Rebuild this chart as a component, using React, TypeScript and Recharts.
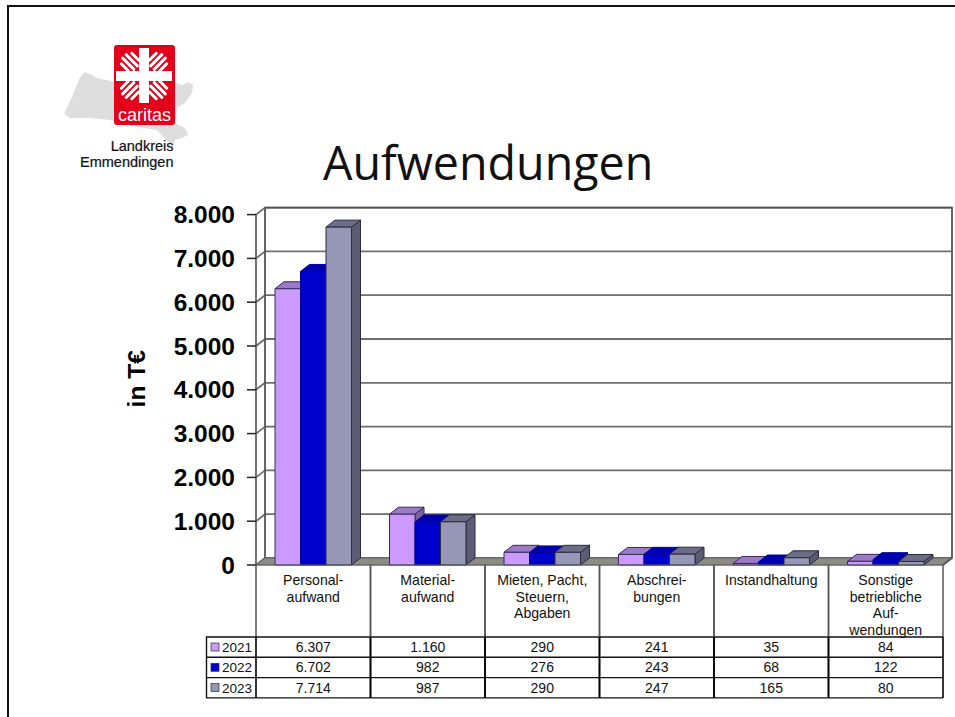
import React from 'react';
import { BarChart, Bar, XAxis, YAxis, CartesianGrid, ReferenceArea } from 'recharts';

const categories = ['Personalaufwand', 'Materialaufwand', 'Mieten', 'Abschreibungen', 'Instandhaltung', 'Sonstige'];
const categoryLines = [
  ['Personal-', 'aufwand'],
  ['Material-', 'aufwand'],
  ['Mieten, Pacht,', 'Steuern,', 'Abgaben'],
  ['Abschrei-', 'bungen'],
  ['Instandhaltung'],
  ['Sonstige', 'betriebliche', 'Auf-', 'wendungen'],
];
const values2021 = [6307, 1160, 290, 241, 35, 84];
const values2022 = [6702, 982, 276, 243, 68, 122];
const values2023 = [7714, 987, 290, 247, 165, 80];
const yTicks = [0, 1000, 2000, 3000, 4000, 5000, 6000, 7000, 8000];
const seriesNames = ['2021', '2022', '2023'];
const seriesValues = [values2021, values2022, values2023];
const frontColors = ['#CC99FF', '#0000CC', '#9696B6'];
const topColors = ['#9B7AC6', '#0000B0', '#6C6C86'];
const sideColors = ['#7D62A0', '#00008C', '#5C5C74'];
const outlineColors = ['#3a2a5a', '#0000A0', '#2a2a40'];

const data = categories.map((name, i) => ({
  name,
  y2021: values2021[i],
  y2022: values2022[i],
  y2023: values2023[i],
}));

const DX = 9;
const DY = 7;
const FONT = '"Liberation Sans", Arial, sans-serif';
const formatDe = (v: number) => v.toString().replace(/\B(?=(\d{3})+(?!\d))/g, '.');

const Bar3D = (colorIdx: number) => (props: any) => {
  const { x, y, width, height } = props;
  return (
    <g stroke={outlineColors[colorIdx]} strokeWidth={1} strokeLinejoin="round">
      <polygon
        points={`${x + width},${y} ${x + width + DX},${y - DY} ${x + width + DX},${y + height - DY} ${x + width},${y + height}`}
        fill={sideColors[colorIdx]}
      />
      <polygon
        points={`${x},${y} ${x + DX},${y - DY} ${x + width + DX},${y - DY} ${x + width},${y}`}
        fill={topColors[colorIdx]}
      />
      <rect x={x} y={y} width={width} height={height} fill={frontColors[colorIdx]} />
    </g>
  );
};

// back wall, right wall and floor of the 3d box
const Walls = (props: any) => {
  const { x, y, width, height } = props;
  const right = x + width;
  const bottom = y + height;
  return (
    <g>
      <polygon
        points={`${x},${bottom} ${x + DX},${bottom - DY} ${right + DX},${bottom - DY} ${right},${bottom}`}
        fill="#8C8C84"
        stroke="#666"
      />
      <path
        d={`M${x + DX},${bottom - DY} V${y - DY} H${right + DX} V${bottom - DY} L${right},${bottom}`}
        fill="none"
        stroke="#555"
        strokeWidth={1.8}
      />
    </g>
  );
};

const GridLine = (props: any) => {
  const { x1, x2, y1 } = props;
  return (
    <g stroke="#6e6e6e" strokeWidth={1.8}>
      <line x1={x1} y1={y1} x2={x1 + DX} y2={y1 - DY} />
      <line x1={x1 + DX} y1={y1 - DY} x2={x2 + DX} y2={y1 - DY} />
    </g>
  );
};

const rowTop = 72;
const rowH = 20.3;

// category label plus value cells below it, the data table under the chart
const TableTick = (props: any) => {
  const { x, y, index } = props;
  const colW = 114.5;
  const left = x - colW / 2;
  const right = x + colW / 2;
  const top = y;
  const tableTop = top + rowTop;
  const tableBottom = tableTop + rowH * 3;
  const text = { fontFamily: FONT, fontSize: 13.5, fill: '#111', textAnchor: 'middle' as const };
  return (
    <g>
      <line x1={left} y1={top} x2={left} y2={tableTop} stroke="#555" strokeWidth={1.5} />
      <line x1={right} y1={top} x2={right} y2={tableTop} stroke="#555" strokeWidth={1.5} />
      <line x1={left} y1={top} x2={right} y2={top} stroke="#666" strokeWidth={1} />
      {categoryLines[index].map((t, i) => (
        <text key={t} x={x} y={top + 20 + i * 16.5} {...text} fontSize={14.1}>
          {t}
        </text>
      ))}
      {[0, 1, 2, 3].map((r) => (
        <line key={r} x1={left} y1={tableTop + r * rowH} x2={right} y2={tableTop + r * rowH} stroke="#111" strokeWidth={1.4} />
      ))}
      <line x1={left} y1={tableTop} x2={left} y2={tableBottom} stroke="#000" strokeWidth={1.6} />
      <line x1={right} y1={tableTop} x2={right} y2={tableBottom} stroke="#000" strokeWidth={1.6} />
      {seriesValues.map((vals, r) => (
        <text key={r} x={x} y={tableTop + r * rowH + 15} {...text} fontSize={14}>
          {formatDe(vals[index])}
        </text>
      ))}
      {index === 0 && (
        <g>
          <path
            d={`M${left},${tableTop} H${left - 49.5} V${tableBottom} H${left} M${left - 49.5},${tableTop + rowH} H${left} M${left - 49.5},${tableTop + rowH * 2} H${left}`}
            fill="none"
            stroke="#111"
            strokeWidth={1.4}
          />
          {seriesNames.map((n, r) => (
            <g key={n}>
              <rect x={left - 45} y={tableTop + r * rowH + 6} width={8} height={8} fill={frontColors[r]} stroke="#333" strokeWidth={0.7} />
              <text x={left - 34} y={tableTop + r * rowH + 15} fontFamily={FONT} fontSize={13.5} fill="#111">
                {n}
              </text>
            </g>
          ))}
        </g>
      )}
    </g>
  );
};

const rays = [0, 90, 180, 270];
const rayStripes = [-7.5, -2.5, 2.5, 7.5];

const Logo = () => (
  <svg width={260} height={180} style={{ position: 'absolute', left: 0, top: 0 }}>
    <path
      d="M64,114 L72,97 L80,77 L85,72 L92,75 L97,78 L115,82 L175,83 L183,85 L188,82 L193,85 L192,93 L185,103 L177,108 L175,123 L185,128 L188,135 L182,138 L175,140 L173,147 L157,130 L137,127 L110,120 L90,118 L70,118 Z"
      fill="#DEDEDE"
    />
    <rect x={114} y={45} width={61} height={80} rx={3} fill="#E2001A" />
    {rays.map((r) => (
      <g key={r} transform={`rotate(${r} 144 76) translate(0 -2)`}>
        {rayStripes.map((o) => {
          const half = Math.abs(o) > 5 ? 5 : 8;
          const cx = 130 + o * 0.7;
          const cy = 64 - o * 0.7;
          return (
            <line
              key={o}
              x1={cx - half * 0.7}
              y1={cy - half * 0.7}
              x2={cx + half * 0.7}
              y2={cy + half * 0.7}
              stroke="#fff"
              strokeWidth={3}
              strokeLinecap="round"
            />
          );
        })}
      </g>
    ))}
    <rect x={139} y={48} width={10} height={55} fill="#fff" />
    <rect x={116} y={71} width={56} height={10} fill="#fff" />
    <text x={144.5} y={121} textAnchor="middle" fontFamily={FONT} fontSize={18} fill="#fff">
      caritas
    </text>
    <text x={173.5} y={151} textAnchor="end" fontFamily={FONT} fontSize={14.5} stroke="#111" strokeWidth={0.2} fill="#111">
      Landkreis
    </text>
    <text x={173.5} y={167} textAnchor="end" fontFamily={FONT} fontSize={14.5} stroke="#111" strokeWidth={0.2} fill="#111">
      Emmendingen
    </text>
  </svg>
);

export default function App() {
  return (
    <div style={{ position: 'absolute', left: 0, top: 0, width: 955, height: 717, overflow: 'hidden', background: '#fff' }}>
      <div style={{ position: 'absolute', left: 7, top: 5, width: 948, height: 712, borderLeft: '2.5px solid #111', borderTop: '2.5px solid #111' }} />
      <Logo />
      <div style={{ position: 'absolute', left: 323, top: 130, fontFamily: '"Open Sans", sans-serif', fontSize: 46.6, color: '#111', lineHeight: '64px' }}>
        Aufwendungen
      </div>
      <div style={{ position: 'absolute', left: 0, top: 0 }}>
        <BarChart
          width={955}
          height={717}
          data={data}
          barGap={0}
          barSize={25.5}
          margin={{ top: 214.6, right: 12, bottom: 0, left: 136 }}
        >
          <ReferenceArea y1={0} y2={8000} shape={Walls} ifOverflow="visible" />
          <CartesianGrid vertical={false} horizontal={GridLine} />
          <XAxis dataKey="name" height={152} interval={0} axisLine={false} tickLine={false} tickSize={0} tickMargin={0} tick={TableTick} />
          <YAxis
            width={120}
            domain={[0, 8000]}
            ticks={yTicks}
            interval={0}
            tickFormatter={formatDe}
            tickSize={9}
            tickMargin={12}
            tickLine={{ stroke: '#222', strokeWidth: 1.5 }}
            axisLine={{ stroke: '#444', strokeWidth: 1.5 }}
            tick={{ fontFamily: FONT, fontSize: 24.5, fontWeight: 700, fill: '#000' }}
            label={{ value: 'in T€', angle: -90, position: 'insideLeft', offset: 0, dy: -11, style: { fontFamily: FONT, fontSize: 24.5, fontWeight: 700, fill: '#000', textAnchor: 'middle' } }}
          />
          <Bar dataKey="y2021" isAnimationActive={false} shape={Bar3D(0)} />
          <Bar dataKey="y2022" isAnimationActive={false} shape={Bar3D(1)} />
          <Bar dataKey="y2023" isAnimationActive={false} shape={Bar3D(2)} />
        </BarChart>
      </div>
    </div>
  );
}
